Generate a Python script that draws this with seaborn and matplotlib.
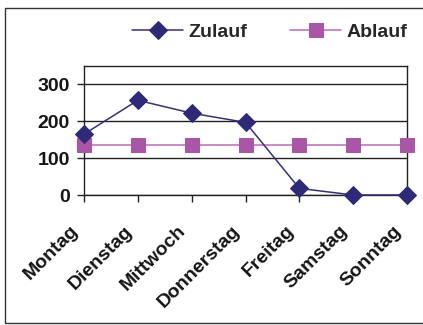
import matplotlib
matplotlib.use("Agg")
import matplotlib.pyplot as plt
import matplotlib.transforms as mtransforms
import seaborn as sns
import pandas as pd
from matplotlib.patches import Rectangle

days = ["Montag", "Dienstag", "Mittwoch", "Donnerstag", "Freitag", "Samstag", "Sonntag"]
zulauf = [165, 257, 222, 197, 18, 0, 0]
ablauf = [135, 135, 135, 135, 135, 135, 135]
yticks = [0, 100, 200, 300]

sns.set_theme(style="white")
plt.rcParams['font.family'] = ['Liberation Sans', 'DejaVu Sans']
plt.rcParams['font.weight'] = 'bold'

fig = plt.figure(figsize=(4.23, 3.25), dpi=100)
ax = fig.add_axes([84/423, 130/325, 323/423, 129/325])

x = list(range(len(days)))
df = pd.DataFrame({"x": x * 2, "y": zulauf + ablauf,
                   "Serie": ["Zulauf"] * len(days) + ["Ablauf"] * len(days)})

sns.lineplot(data=df[df.Serie == "Ablauf"], x="x", y="y", ax=ax, color="#C278BC",
             marker="s", markersize=9.5, markerfacecolor="#AA56A6", markeredgecolor="#AA56A6",
             linewidth=1.2, label="Ablauf", clip_on=False, zorder=3)
sns.lineplot(data=df[df.Serie == "Zulauf"], x="x", y="y", ax=ax, color="#34307A",
             marker="D", markersize=9, markerfacecolor="#2F2A78", markeredgecolor="#2F2A78",
             linewidth=1.1, label="Zulauf", clip_on=False, zorder=4)

FS = 14
ax.set_xlim(0, len(days) - 1)
ax.set_ylim(0, 350)
ax.set_yticks(yticks)
ax.set_yticklabels([str(v) for v in yticks], fontsize=FS, fontweight='bold')
ax.set_xticks(x)
ax.set_xticklabels(days, rotation=45, ha='right', va='center', rotation_mode='anchor',
                   fontsize=FS, fontweight='bold')
ax.set_xlabel("")
ax.set_ylabel("")
ax.grid(axis='y', color='#222222', linewidth=1.0)
ax.grid(axis='x', visible=False)
for s in ax.spines.values():
    s.set_color('#222222')
    s.set_linewidth(1.0)
ax.tick_params(axis='both', which='both', direction='out', length=5, width=1.0,
               color='#222222', labelcolor='#151515', bottom=True, left=True)
ax.tick_params(axis='x', pad=14)
ax.tick_params(axis='y', pad=5)

offset = mtransforms.ScaledTranslation(-8/100, -7/100, fig.dpi_scale_trans)
for lab in ax.get_xticklabels():
    lab.set_transform(lab.get_transform() + offset)

ax.get_legend().remove()
h, l = ax.get_legend_handles_labels()
order = [l.index("Zulauf"), l.index("Ablauf")]
fig.legend([h[i] for i in order], [l[i] for i in order], loc='center',
           bbox_to_anchor=(270/423, 1 - 32/325), ncol=2, frameon=False,
           handlelength=2.6, columnspacing=2.2, handletextpad=0.3,
           prop={'weight': 'bold', 'size': FS})

fig.patches.append(Rectangle((5/423, 2/325), 1.2, 315/325, transform=fig.transFigure,
                             fill=False, edgecolor='#333333', linewidth=1.0))

fig.savefig("out.png", dpi=100)
